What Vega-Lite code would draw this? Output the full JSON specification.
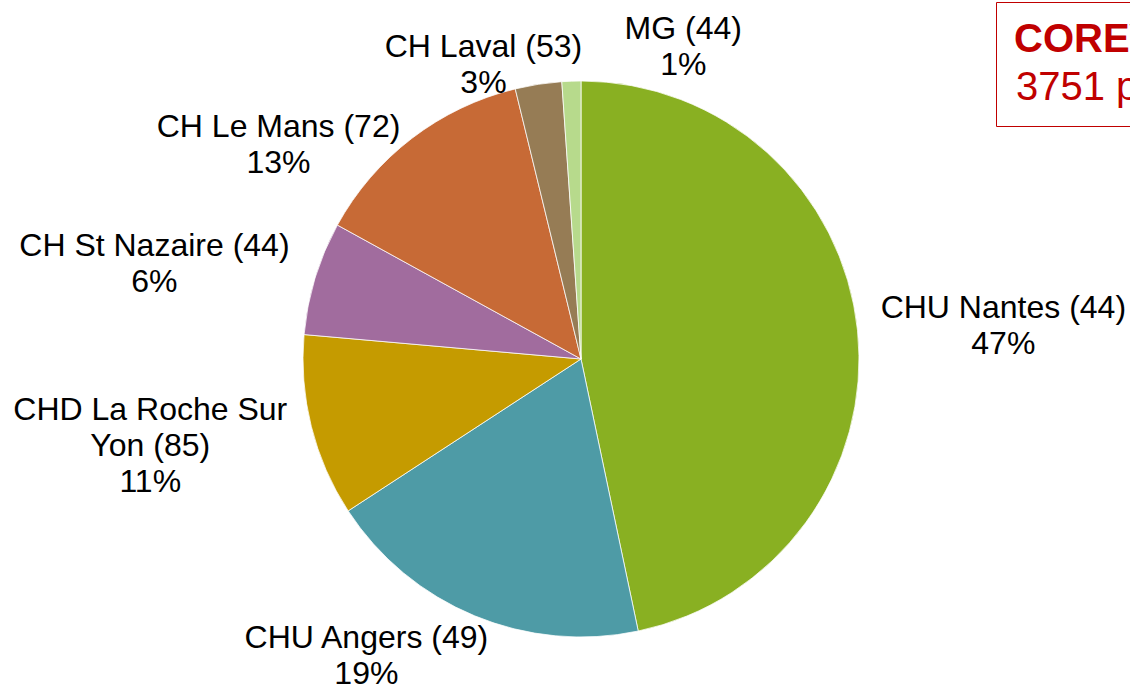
{
  "$schema": "https://vega.github.io/schema/vega-lite/v6.json",
  "width": 556,
  "height": 556,
  "autosize": {"type": "none"},
  "padding": {"left": 303, "top": 81, "right": 271, "bottom": 51},
  "background": "white",
  "config": {
    "view": {"stroke": null},
    "font": "Liberation Sans",
    "text": {"font": "Liberation Sans", "fontSize": 32, "color": "#000000", "lineBreak": "\n", "lineHeight": 36},
    "legend": {
      "orient": "none",
      "legendX": 693,
      "legendY": -79,
      "padding": 18,
      "strokeColor": "#C00000",
      "titleColor": "#C00000",
      "titleFont": "Liberation Sans",
      "titleFontSize": 40,
      "titleFontWeight": "bold",
      "titleLimit": 2000,
      "titlePadding": 8,
      "labelColor": "#C00000",
      "labelFont": "Liberation Sans",
      "labelFontSize": 40,
      "labelLimit": 2000,
      "symbolSize": 0,
      "symbolOpacity": 0,
      "symbolStrokeWidth": 0
    }
  },
  "datasets": {
    "sites": [
      {"site": "CHU Nantes", "value": 46.7, "ord": 1, "label": "CHU Nantes (44)\n47%"},
      {"site": "CHU Angers", "value": 19.1, "ord": 2, "label": "CHU Angers (49)\n19%"},
      {"site": "CHD La Roche Sur Yon", "value": 10.6, "ord": 3, "label": "CHD La Roche Sur\nYon (85)\n11%"},
      {"site": "CH St Nazaire", "value": 6.6, "ord": 4, "label": "CH St Nazaire (44)\n6%"},
      {"site": "CH Le Mans", "value": 13.2, "ord": 5, "label": "CH Le Mans (72)\n13%"},
      {"site": "CH Laval", "value": 2.7, "ord": 6, "label": "CH Laval (53)\n3%"},
      {"site": "MG", "value": 1.1, "ord": 7, "label": "MG (44)\n1%"}
    ],
    "box": [
      {"note": "3751 patients"}
    ]
  },
  "data": {"name": "sites"},
  "layer": [
    {
      "mark": {"type": "arc", "stroke": "#FFFFFF", "strokeWidth": 0.75},
      "encoding": {
        "theta": {"field": "value", "type": "quantitative", "stack": true},
        "order": {"field": "ord", "type": "quantitative"},
        "color": {
          "field": "site",
          "type": "nominal",
          "legend": null,
          "scale": {
            "domain": ["CHU Nantes", "CHU Angers", "CHD La Roche Sur Yon", "CH St Nazaire", "CH Le Mans", "CH Laval", "MG"],
            "range": ["#89B022", "#4E9BA6", "#C59B00", "#A16C9E", "#C76A36", "#967C55", "#B7DA8C"]
          }
        }
      }
    },
    {
      "mark": {"type": "text", "radius": 310, "dx": 114, "dy": -19},
      "encoding": {
        "theta": {"field": "value", "type": "quantitative", "stack": true},
        "order": {"field": "ord", "type": "quantitative"},
        "text": {"condition": {"test": "datum.site === 'CHU Nantes'", "field": "label"}, "value": ""}
      }
    },
    {
      "mark": {"type": "text", "radius": 310, "dx": -96, "dy": -7},
      "encoding": {
        "theta": {"field": "value", "type": "quantitative", "stack": true},
        "order": {"field": "ord", "type": "quantitative"},
        "text": {"condition": {"test": "datum.site === 'CHU Angers'", "field": "label"}, "value": ""}
      }
    },
    {
      "mark": {"type": "text", "radius": 310, "dx": -130, "dy": -24},
      "encoding": {
        "theta": {"field": "value", "type": "quantitative", "stack": true},
        "order": {"field": "ord", "type": "quantitative"},
        "text": {"condition": {"test": "datum.site === 'CHD La Roche Sur Yon'", "field": "label"}, "value": ""}
      }
    },
    {
      "mark": {"type": "text", "radius": 310, "dx": -130, "dy": -23},
      "encoding": {
        "theta": {"field": "value", "type": "quantitative", "stack": true},
        "order": {"field": "ord", "type": "quantitative"},
        "text": {"condition": {"test": "datum.site === 'CH St Nazaire'", "field": "label"}, "value": ""}
      }
    },
    {
      "mark": {"type": "text", "radius": 310, "dx": -114, "dy": 14},
      "encoding": {
        "theta": {"field": "value", "type": "quantitative", "stack": true},
        "order": {"field": "ord", "type": "quantitative"},
        "text": {"condition": {"test": "datum.site === 'CH Le Mans'", "field": "label"}, "value": ""}
      }
    },
    {
      "mark": {"type": "text", "radius": 310, "dx": -50, "dy": -6},
      "encoding": {
        "theta": {"field": "value", "type": "quantitative", "stack": true},
        "order": {"field": "ord", "type": "quantitative"},
        "text": {"condition": {"test": "datum.site === 'CH Laval'", "field": "label"}, "value": ""}
      }
    },
    {
      "mark": {"type": "text", "radius": 310, "dx": 113, "dy": -20},
      "encoding": {
        "theta": {"field": "value", "type": "quantitative", "stack": true},
        "order": {"field": "ord", "type": "quantitative"},
        "text": {"condition": {"test": "datum.site === 'MG'", "field": "label"}, "value": ""}
      }
    },
    {
      "data": {"name": "box"},
      "mark": {"type": "point", "opacity": 0},
      "encoding": {
        "shape": {
          "field": "note",
          "type": "nominal",
          "title": "COREVIH",
          "legend": {"symbolSize": 0, "symbolType": "circle", "labelOffset": -38}
        }
      }
    }
  ]
}
